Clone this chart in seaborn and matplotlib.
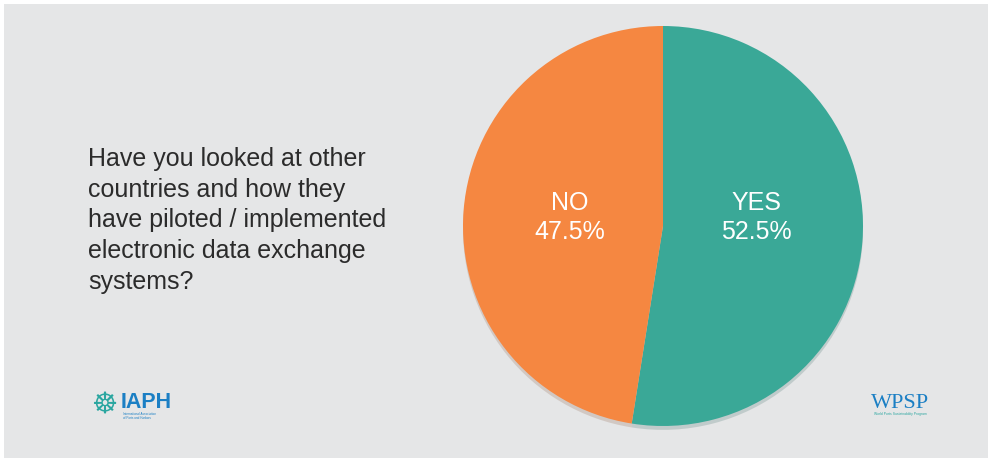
import matplotlib
matplotlib.use("Agg")
import matplotlib.pyplot as plt
import seaborn as sns
from matplotlib.patches import Rectangle

# survey answers
answers = ["YES", "NO"]
shares = [52.5, 47.5]
answer_colors = ["#3aa897", "#f58741"]

question = ("Have you looked at other\ncountries and how they\n"
            "have piloted / implemented\nelectronic data exchange\nsystems?")

sns.set_theme(style="white")
plt.rcParams["font.family"] = ["Liberation Sans", "DejaVu Sans"]

W, H = 988, 458
fig = plt.figure(figsize=(W / 100, H / 100), dpi=100, facecolor="white")

# grey slide background with a thin white margin on the left/top
fig.patches.append(Rectangle((4 / W, 0), 1, 1 - 4 / H, transform=fig.transFigure,
                             facecolor="#e5e6e7", edgecolor="none", zorder=-5))

# pie axes: centre ~ (663, 226) px, radius ~200 px
ax = fig.add_axes([463 / W, 32 / H, 400 / W, 400 / H])
ax.set_zorder(2)
ax.set_facecolor("none")
wedges, texts, autotexts = ax.pie(
    shares, colors=answer_colors, startangle=90, counterclock=False,
    autopct=lambda p: "", pctdistance=0.47,
    wedgeprops=dict(linewidth=0),
    shadow=dict(ox=0, oy=-0.014, shade=0.5, alpha=0.18),
)
ax.set_xlim(-1, 1)
ax.set_ylim(-1, 1)
ax.set_aspect("equal")
ax.axis("off")

# labels sit on one common line, a bit above the centre
for t, name, val in zip(autotexts, answers, shares):
    x, _ = t.get_position()
    t.set_position((x, 0.043))
    t.set_text(f"{name}\n{val:.1f}%")
    t.set_color("white")
    t.set_fontsize(18)
    t.set_linespacing(1.3)
    t.set_ha("center")
    t.set_va("center")

fig.text(88 / W, 1 - 147 / H, question, fontsize=18, color="#2b2b2b",
         ha="left", va="top", linespacing=1.35)

# logos rendered as text
fig.text(104 / W, 1 - 405 / H, "\u2638", fontsize=21, color="#2aa6a0",
         ha="center", va="center", family=["DejaVu Sans"])
fig.text(121 / W, 1 - 402 / H, "IAPH", fontsize=15.5, color="#1b7fc4",
         ha="left", va="center", fontweight="bold")
fig.text(123 / W, 1 - 416 / H, "International Association\nof Ports and Harbors",
         fontsize=2.2, color="#1b7fc4", ha="left", va="center")
fig.text(900 / W, 1 - 404 / H, "WPSP", fontsize=16, color="#1b7fc4",
         ha="center", va="center", family=["Liberation Serif", "DejaVu Serif"])
fig.text(900 / W, 1 - 414 / H, "World Ports Sustainability Program",
         fontsize=2.4, color="#2aa6a0", ha="center", va="center")

fig.savefig("out.png", dpi=100, facecolor=fig.get_facecolor())
